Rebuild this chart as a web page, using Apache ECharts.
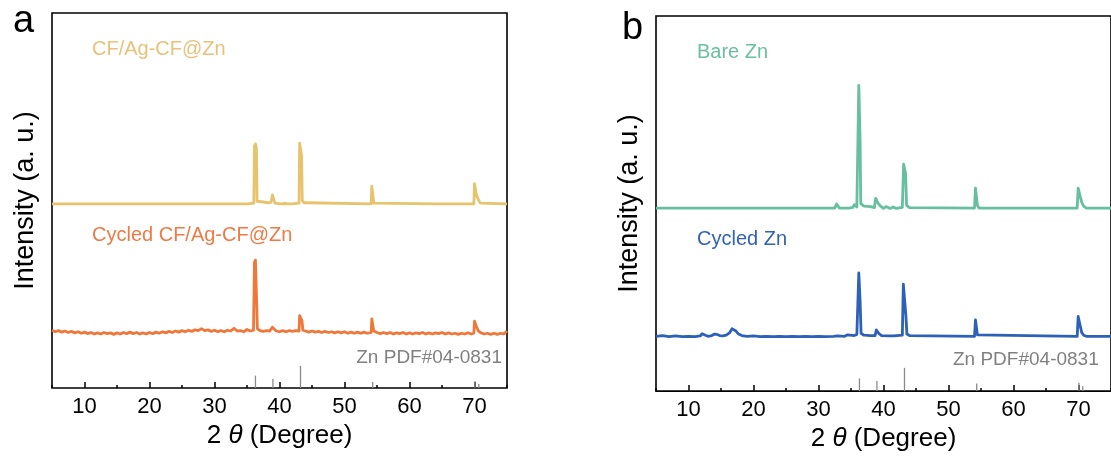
<!DOCTYPE html>
<html>
<head>
<meta charset="utf-8">
<title>XRD patterns</title>
<script src="https://cdn.jsdelivr.net/npm/echarts@6/dist/echarts.min.js"></script>
<style>
  html, body { margin: 0; padding: 0; background: #fff; }
  #chart { width: 1111px; height: 457px; }
</style>
</head>
<body>
<div id="chart"></div>
<script>
// ---- data: [2θ (deg), intensity (a. u., offset stacked)] ----
const xTickLabels = [10, 20, 30, 40, 50, 60, 70];

// Zn PDF#04-0831 reference reflections [2θ, stick height]
const zincRefA = [[36.30, 3.3], [38.99, 2.4], [43.23, 5.9], [54.34, 1.6], [70.06, 1.8], [70.66, 1.1]];
const zincRefB = [[36.30, 3.4], [38.99, 2.7], [43.23, 6.2], [54.34, 2.0], [70.06, 2.2], [70.66, 1.3]];

// panel a — CF/Ag-CF@Zn (fresh)
const cfAgZn = [
  [5, 49.1], [16.2, 49.1], [16.5, 49.6], [16.8, 49.1], [32.5, 49.1], [32.8, 49.4], [33.0, 49.1],
  [34.8, 49.1], [35.0, 49.5], [35.2, 49.1], [36.05, 49.3], [36.15, 64.5], [36.3, 65.1], [36.45, 64.0],
  [36.55, 49.8], [36.8, 49.5], [37.5, 49.6], [37.8, 50.0], [38.2, 49.4], [38.7, 49.5], [38.9, 51.5],
  [39.1, 51.2], [39.3, 49.3], [39.6, 48.8], [40.2, 49.1], [40.5, 49.5], [40.9, 49.2], [41.3, 49.1],
  [41.6, 49.5], [41.9, 49.1], [43.0, 49.3], [43.1, 65.3], [43.25, 65.7], [43.4, 62.0], [43.5, 50.0],
  [43.8, 49.4], [44.3, 49.4], [44.5, 49.1], [54.1, 49.1], [54.2, 53.8], [54.35, 54.1], [54.5, 49.3],
  [64.0, 49.1], [64.2, 49.4], [64.4, 49.1], [69.9, 49.1], [70.0, 54.5], [70.15, 54.7], [70.3, 51.5],
  [70.6, 50.2], [70.9, 49.3], [75, 49.1]
];

// panel a — cycled CF/Ag-CF@Zn
const cycledCfAgZn = [
  [5.0, 15.4], [5.5, 15.0], [6.0, 15.3], [6.5, 14.9], [7.0, 15.2], [7.5, 14.8], [8.0, 15.1], [8.5, 14.7],
  [9.0, 15.0], [9.5, 14.6], [10.0, 14.9], [10.5, 14.5], [11.0, 14.8], [11.5, 14.4], [12.0, 14.7],
  [12.5, 14.4], [13.0, 14.8], [13.5, 14.5], [14.0, 14.7], [14.5, 14.3], [15.0, 14.7], [15.5, 14.4],
  [16.0, 14.8], [16.5, 14.5], [17.0, 14.9], [17.5, 14.5], [18.0, 14.8], [18.5, 14.4], [19.0, 14.7],
  [19.5, 14.4], [20.0, 14.8], [20.5, 14.5], [21.0, 14.9], [21.5, 14.6], [22.0, 15.0], [22.5, 14.7],
  [23.0, 15.1], [23.5, 14.8], [24.0, 15.2], [24.5, 14.9], [25.0, 15.3], [25.5, 15.0], [26.0, 15.4],
  [26.5, 15.1], [27.0, 15.5], [27.5, 15.3], [28.0, 15.8], [28.5, 15.3], [29.0, 15.5], [29.5, 15.1],
  [30.0, 15.4], [30.5, 15.0], [31.0, 15.3], [31.5, 15.0], [32.0, 15.4], [32.5, 15.2], [33.0, 15.9],
  [33.5, 15.2], [34.0, 15.3], [34.5, 15.0], [35.0, 15.6], [35.5, 15.2], [36.0, 15.4], [36.15, 33.5],
  [36.3, 34.1], [36.45, 33.8], [36.6, 15.8], [37.0, 15.3], [37.5, 15.1], [38.0, 15.3], [38.5, 15.2],
  [38.9, 16.2], [39.2, 15.9], [39.5, 15.2], [40.0, 15.0], [40.5, 15.3], [41.0, 15.0], [41.5, 15.3],
  [42.0, 15.1], [42.5, 15.3], [43.0, 15.2], [43.1, 19.3], [43.3, 19.5], [43.45, 18.0], [43.6, 15.4],
  [44.0, 15.2], [44.5, 14.9], [45.0, 15.2], [45.5, 14.9], [46.0, 15.1], [46.5, 14.8], [47.0, 15.1],
  [47.5, 14.8], [48.0, 15.0], [48.5, 14.7], [49.0, 15.0], [49.5, 14.7], [50.0, 15.0], [50.5, 14.6],
  [51.0, 14.9], [51.5, 14.6], [52.0, 14.9], [52.5, 14.6], [53.0, 14.9], [53.5, 14.6], [54.1, 14.8],
  [54.2, 18.4], [54.35, 18.6], [54.5, 15.2], [55.0, 14.8], [55.5, 14.5], [56.0, 14.8], [56.5, 14.5],
  [57.0, 14.8], [57.5, 14.4], [58.0, 14.7], [58.5, 14.5], [59.0, 14.8], [59.5, 14.4], [60.0, 14.7],
  [60.5, 14.4], [61.0, 14.7], [61.5, 14.5], [62.0, 14.8], [62.5, 14.4], [63.0, 14.7], [63.5, 14.4],
  [64.0, 14.7], [64.5, 14.5], [65.0, 14.8], [65.5, 14.4], [66.0, 14.7], [66.5, 14.4], [67.0, 14.6],
  [67.5, 14.3], [68.0, 14.6], [68.5, 14.4], [69.0, 14.7], [69.5, 14.4], [69.9, 14.6], [70.0, 17.8],
  [70.15, 17.9], [70.3, 16.4], [70.6, 15.2], [71.0, 14.7], [71.5, 14.4], [72.0, 14.6], [72.5, 14.3],
  [73.0, 14.6], [73.5, 14.3], [74.0, 14.6], [74.5, 14.4], [75.0, 15.2]
];

// panel b — bare Zn
const bareZn = [
  [5, 48.8], [14.8, 48.8], [15.1, 49.1], [15.4, 48.8], [16.8, 48.8], [17.1, 49.0], [17.4, 48.8],
  [22.3, 48.8], [22.5, 49.1], [22.7, 48.8], [32.5, 48.8], [32.8, 49.9], [33.0, 49.6], [33.2, 48.8],
  [34.3, 48.8], [34.5, 49.2], [34.7, 48.8], [35.3, 49.0], [35.5, 49.7], [35.7, 49.4], [35.9, 49.1],
  [36.1, 49.3], [36.2, 81.5], [36.3, 81.8], [36.4, 67.0], [36.5, 50.0], [37.0, 49.3], [38.0, 49.2],
  [38.6, 48.9], [38.8, 51.4], [39.0, 51.6], [39.2, 50.0], [39.5, 49.4], [40.0, 48.7], [40.4, 49.2],
  [41.0, 48.7], [41.5, 49.1], [42.0, 48.7], [42.9, 49.0], [43.1, 60.5], [43.25, 60.7], [43.4, 58.0],
  [43.55, 49.5], [44.0, 48.9], [44.3, 48.8], [54.0, 48.8], [54.15, 54.1], [54.3, 54.3], [54.45, 49.5],
  [54.7, 48.8], [69.8, 48.8], [69.95, 54.1], [70.1, 54.3], [70.25, 52.0], [70.5, 50.3], [70.8, 49.3],
  [71.2, 48.8], [75, 48.8]
];

// panel b — cycled Zn
const cycledZn = [
  [5, 14.6], [6, 14.8], [7, 14.5], [8, 14.7], [9, 14.5], [10, 14.6], [11, 14.5], [11.8, 14.7],
  [12.1, 15.3], [12.3, 15.6], [12.6, 14.9], [13.0, 14.6], [13.6, 14.8], [14.0, 15.2], [14.4, 15.1],
  [14.8, 14.8], [15.3, 14.7], [15.8, 14.9], [16.3, 15.5], [16.7, 16.6], [17.0, 16.7], [17.3, 16.0],
  [17.7, 15.2], [18.2, 14.8], [19, 14.6], [20, 14.7], [21, 14.5], [22, 14.6], [23, 14.5], [24, 14.6],
  [25, 14.5], [26, 14.6], [27, 14.5], [28, 14.6], [29, 14.5], [30, 14.6], [31, 14.5], [32.3, 14.6],
  [32.6, 15.1], [32.9, 14.7], [34, 14.6], [34.5, 15.0], [34.8, 14.7], [35.5, 14.8], [35.9, 15.1],
  [36.1, 15.0], [36.2, 31.5], [36.3, 31.75], [36.4, 24.0], [36.55, 15.4], [37.0, 14.9], [38.0, 14.8],
  [38.7, 14.8], [38.9, 16.3], [39.1, 16.4], [39.3, 15.3], [39.7, 14.8], [41.0, 14.7], [41.3, 15.1],
  [41.6, 14.7], [42.9, 14.9], [43.05, 28.5], [43.2, 28.8], [43.35, 28.4], [43.45, 20.0], [43.6, 15.2],
  [44.0, 14.8], [54.0, 14.6], [54.15, 19.0], [54.3, 19.1], [54.45, 15.0], [54.7, 14.6], [69.8, 14.6],
  [69.95, 19.9], [70.1, 20.1], [70.25, 17.5], [70.5, 15.6], [70.8, 14.9], [71.2, 14.6], [75, 14.6]
];

// ---- styling ----
const FONT = '"Liberation Sans", Arial, Helvetica, sans-serif';
const C_YELLOW = '#E8C36D';
const C_ORANGE = '#EF773A';
const C_TEAL = '#67BF9F';
const C_BLUE = '#2C61B7';
const C_REF = '#8A8A8A';

const chart = echarts.init(document.getElementById('chart'), null, { renderer: 'canvas' });

function gridBox(left, top, width, height) {
  return { left, top, width, height, show: true, borderColor: '#000', borderWidth: 1.6,
           backgroundColor: 'transparent', containLabel: false };
}

function xAxesFor(g) {
  const tickLine = { color: '#000', width: 1.5 };
  return [
    { // minor ticks every 5°
      gridIndex: g, type: 'value', position: 'bottom', offset: 0, min: 5, max: 75, interval: 5,
      axisLine: { show: false },
      axisTick: { show: true, inside: true, length: 3, lineStyle: tickLine },
      axisLabel: { show: false }, splitLine: { show: false }
    },
    { // labelled major ticks
      gridIndex: g, type: 'value', position: 'bottom', offset: 0, min: 5, max: 75,
      axisLine: { show: false },
      axisTick: { show: true, inside: true, length: 6, customValues: xTickLabels, lineStyle: tickLine },
      axisLabel: { show: true, customValues: xTickLabels, color: '#000', fontSize: 22,
                   fontFamily: FONT, margin: 8 },
      splitLine: { show: false },
      name: '{n|2}{t| θ}{n| (Degree)}',
      nameLocation: 'middle', nameGap: 34,
      nameTextStyle: {
        color: '#000',
        rich: {
          n: { fontSize: 26, fontFamily: FONT, color: '#000' },
          t: { fontSize: 26, fontFamily: FONT, fontStyle: 'italic', color: '#000' }
        }
      }
    }
  ];
}

function yAxisFor(g) {
  return {
    gridIndex: g, type: 'value', min: 0, max: 100,
    axisLine: { show: false }, axisTick: { show: false }, axisLabel: { show: false },
    splitLine: { show: false },
    name: 'Intensity (a. u.)', nameLocation: 'middle', nameRotate: 90, nameGap: 13,
    nameTextStyle: { fontSize: 27, fontFamily: FONT, color: '#000' }
  };
}

function trace(name, data, color, xi, yi, width) {
  return {
    name, type: 'line', data, xAxisIndex: xi, yAxisIndex: yi,
    showSymbol: false, symbol: 'none', smooth: false, animation: false,
    lineStyle: { color, width: width || 2.8, join: 'round' }, z: 3
  };
}

function sticks(name, data, xi, yi) {
  return {
    name, type: 'bar', data, xAxisIndex: xi, yAxisIndex: yi,
    barWidth: 1.3, itemStyle: { color: C_REF }, animation: false, z: 2
  };
}

function label(text, x, y, color, size, align) {
  return {
    type: 'text', x, y, z: 10,
    style: {
      text, fill: color, font: `${size}px ${FONT}`,
      align: align || 'left', textAlign: align || 'left',
      verticalAlign: 'middle', textVerticalAlign: 'middle'
    }
  };
}

const option = {
  backgroundColor: '#fff',
  animation: false,
  grid: [gridBox(52, 13, 455, 375), gridBox(656, 16, 456, 376)],
  xAxis: [...xAxesFor(0), ...xAxesFor(1)],
  yAxis: [yAxisFor(0), yAxisFor(1)],
  series: [
    sticks('Zn PDF#04-0831 (a)', zincRefA, 0, 0),
    trace('CF/Ag-CF@Zn', cfAgZn, C_YELLOW, 0, 0),
    trace('Cycled CF/Ag-CF@Zn', cycledCfAgZn, C_ORANGE, 0, 0),
    sticks('Zn PDF#04-0831 (b)', zincRefB, 2, 1),
    trace('Bare Zn', bareZn, C_TEAL, 2, 1),
    trace('Cycled Zn', cycledZn, C_BLUE, 2, 1)
  ],
  graphic: [
    label('a', 13, 22, '#000', 38),
    label('b', 622, 29, '#000', 38),
    label('CF/Ag-CF@Zn', 92, 49, '#E8C27A', 20),
    label('Cycled CF/Ag-CF@Zn', 92, 235, '#EE7B45', 20),
    label('Zn PDF#04-0831', 502, 358, '#808080', 19, 'right'),
    label('Bare Zn', 697, 52, '#6CBF9F', 20),
    label('Cycled Zn', 697, 239, '#3262B5', 20),
    label('Zn PDF#04-0831', 953, 360, '#808080', 19)
  ]
};

chart.setOption(option);
</script>
</body>
</html>
